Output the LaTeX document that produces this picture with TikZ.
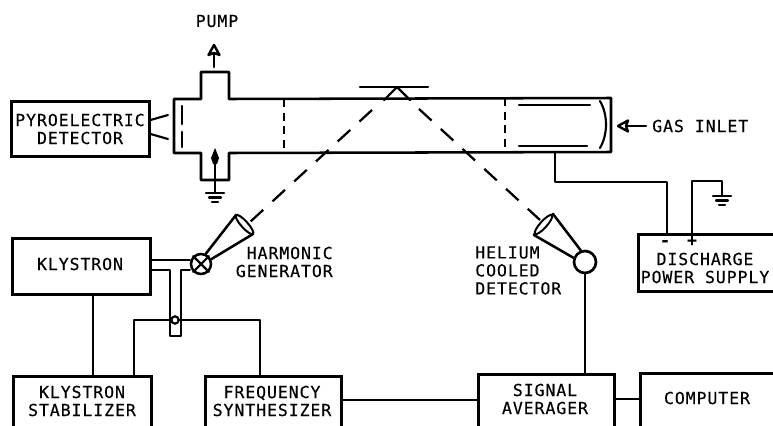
\documentclass[tikz,border=0pt]{standalone}
\usepackage{fontspec}
\setmainfont[LetterSpace=5.5,FakeBold=0.35]{DejaVu Sans Mono}
\usetikzlibrary{calc,shapes.geometric}
\tikzset{
  wire/.style={line width=1.9pt,line join=round,line cap=round},
  thin wire/.style={line width=1.6pt,line join=round,line cap=round},
  boxn/.style={draw,line width=1.9pt,inner sep=0pt,align=center,font=\fontsize{12.4}{13.5}\selectfont,anchor=north west},
  lab/.style={inner sep=0pt,align=center,font=\fontsize{12.4}{13.5}\selectfont},
  beam/.style={line width=1.7pt,dash pattern=on 12.75pt off 9.4pt},
  partition/.style={line width=1.8pt,dash pattern=on 6pt off 4.3pt},
  headopen/.style={draw,fill=white,line width=1.8pt,line join=round},
  hornface/.style={draw,ellipse,fill=white,line width=1.5pt,inner sep=0pt,minimum width=19pt,minimum height=5pt},
}
\newcommand{\groundsym}[1]{%
  \draw[wire] ($(#1)+(-9,0)$) -- ($(#1)+(9,0)$);
  \draw[thin wire] ($(#1)+(-6,4.5)$) -- ($(#1)+(6,4.5)$);
  \draw[thin wire] ($(#1)+(-3,9)$) -- ($(#1)+(3,9)$);
}
\begin{document}
\begin{tikzpicture}[x=0.75pt,y=-0.75pt]
\useasboundingbox (0,0) rectangle (773,425);
\clip (0,0) rectangle (773,425);
% boxes
\node[boxn,minimum width=103.5pt,minimum height=41.5pt] (pyro) at (10,100) {};
\node[lab] at (80,129) {PYROELECTRIC\\DETECTOR};
\node[boxn,minimum width=103.5pt,minimum height=42pt] (klys) at (11,237) {};
\node[lab] at (80,264) {KLYSTRON};
\node[boxn,minimum width=103.5pt,minimum height=60pt] (stab) at (12,375) {};
\node[lab] at (82,401) {KLYSTRON\\STABILIZER};
\node[boxn,minimum width=102pt,minimum height=60pt] (freq) at (204,375) {};
\node[lab] at (272,401) {FREQUENCY\\SYNTHESIZER};
\node[boxn,minimum width=102pt,minimum height=60pt] (sig) at (477,373) {};
\node[lab] at (545,399) {SIGNAL\\AVERAGER};
\node[boxn,minimum width=120pt,minimum height=60pt] (comp) at (639,372) {};
\node[lab] at (707,398) {COMPUTER};
\node[boxn,minimum width=120pt,minimum height=42.75pt] (disc) at (637,233) {};
\node[lab] at (705,268) {DISCHARGE\\POWER SUPPLY};
\node[lab] at (665,243) {\bfseries -};
\node[lab] at (692,241) {\bfseries +};
\node[lab] (pump) at (217,21) {PUMP};
\node[lab,anchor=west] (gas) at (652,126) {GAS INLET};
\node[lab,align=right,anchor=east] at (333,262) {HARMONIC\\GENERATOR};
\node[lab,align=left,anchor=west] at (475,270.5) {HELIUM\\COOLED\\DETECTOR};
% tube
\draw[wire] (201,99) -- (174,99) -- (174,153) -- (201,153) -- (201,180) -- (229,180) -- (229,153) -- (611,152) -- (611,98) -- (229,99) -- (229,72) -- (201,72) -- cycle;
\draw[white,line width=2.6pt] (203,99) -- (227,99);
\draw[white,line width=2.6pt] (203,153) -- (227,153);
\draw[thin wire] (182,106) -- (182,124);
\draw[thin wire] (182,132) -- (182,147);
\draw[partition] (284,99) -- (284,153);
\draw[partition] (505,98) -- (505,152);
\draw[thin wire] (519,105) -- (590,105);
\draw[thin wire] (519,146) -- (587,146);
\draw[thin wire] (600,101) .. controls (608,115) and (608,134) .. (600,148);
% detector leads
\draw[thin wire] (pyro.east |- 0,120) -- (168,115);
\draw[thin wire] (pyro.east |- 0,134) -- (168,139);
% pump and lower arrow
\draw[wire] (214,67) -- (214,54);
\draw[headopen] (214,45) -- (208.5,55) -- (214,53) -- (219.5,55) -- cycle;
\coordinate (g1) at (215,193);
\draw[wire] (215,160) -- (g1);
\fill (215,148) -- (211,158) -- (213,164) -- (217,164) -- (219,158) -- cycle;
\groundsym{g1}
% gas inlet arrow
\draw[wire] (646,126) -- (626,126);
\draw[headopen] (618,126) -- (628,120.5) -- (626,126) -- (628,131.5) -- cycle;
% mirror
\draw[wire] (360,87) -- (428,87);
\draw[thin wire] (384,100) -- (397,87) -- (410,100);
% beams
\coordinate (ml) at (250,222);
\coordinate (mr) at (540,220);
\draw[beam] (372,110) -- (ml);
\draw[beam] (419,109) -- (mr);
% mixer and horn
\node[draw,circle,line width=1.9pt,minimum size=15pt,inner sep=0pt] (mix) at (201,264) {};
\draw[thin wire] (mix.north west) -- (mix.south east);
\draw[thin wire] (mix.north east) -- (mix.south west);
\draw[wire] (mix.25) -- (253,234) -- (236,215) -- (mix.65);
\node[hornface,rotate=-48] (hornl) at (244.5,224.5) {};
% detector and horn
\node[draw,circle,line width=2pt,minimum size=16.5pt,inner sep=0pt] (det) at (585,262) {};
\draw[wire] (det.110) -- (553,214) -- (534,235) -- (det.160);
\node[hornface,rotate=48] (hornr) at (543.5,224.5) {};
% waveguide
\draw[wire] (klys.east |- 0,260) -- (mix.west |- 0,260);
\draw[wire] (klys.east |- 0,270) -- (170,270) -- (170,336) -- (181,336) -- (181,270) -- (mix.west |- 0,270);
% wires
\coordinate (wa) at (93,0);
\draw[wire] (klys.south -| wa) -- (stab.north -| wa);
\coordinate (wb) at (134,0);
\coordinate (wc) at (260,0);
\draw[wire] (stab.north -| wb) -- (134,320) -- (260,320) -- (freq.north -| wc);
\node[draw,circle,fill=white,line width=1.6pt,minimum size=5.5pt,inner sep=0pt] (iris) at (175,320) {};
\draw[wire] (freq.east |- 0,400) -- (sig.west |- 0,400);
\draw[wire] (sig.east |- 0,399) -- (comp.west |- 0,399);
\draw[wire] (det.south) -- (sig.north -| det.south);
% discharge wiring
\coordinate (we) at (667,0);
\coordinate (wf) at (692,0);
\coordinate (g2) at (722,196);
\draw[wire] (555,152) -- (555,182) -- (667,182) -- (disc.north -| we);
\draw[wire] (disc.north -| wf) -- (692,181) -- (722,181) -- (g2);
\groundsym{g2}
\end{tikzpicture}
\end{document}
